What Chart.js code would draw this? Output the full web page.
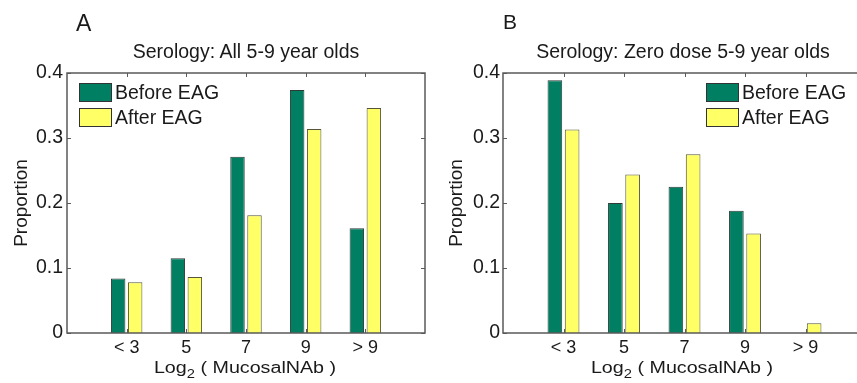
<!DOCTYPE html>
<html lang="en">
  <head>
    <meta charset="UTF-8" />
    <title>Serology</title>
    <style>
      html, body { margin: 0; padding: 0; overflow: hidden; background: #fff; }
      .page {
        position: relative; width: 857px; height: 383px; overflow: hidden;
        font-family: "Liberation Sans", Arial, sans-serif; color: #1a1a1a;
      }
      .panel { position: absolute; top: 0; height: 383px; }
      .panel canvas { position: absolute; left: 0; top: 0; }
      .letter, .title, .xlabel, .legend { position: absolute; white-space: nowrap; line-height: 1; }
      .letter { font-size: 23px; top: 12px; }
      .title { font-size: 19.5px; top: 42px; transform: translateX(-50%); }
      .xlabel { font-size: 16px; top: 359.5px; transform: translateX(-50%) scaleX(1.23); }
      .xlabel sub { font-size: 12px; vertical-align: -5px; line-height: 1; }
      .legend { top: 83px; font-size: 19.5px; }
      .legend .row { display: flex; align-items: center; height: 19px; margin-bottom: 6px; }
      .legend .sw { width: 33px; height: 19px; box-sizing: border-box; border: 1px solid #333; margin-right: 3px; }
    </style>
  </head>
  <body>
    <div class="page">
      <div class="panel" id="panelA" style="left:0;width:430px">
        <canvas id="chartA" width="430" height="383"></canvas>
        <div class="letter" style="left:76px">A</div>
        <div class="title" style="left:246px">Serology: All 5-9 year olds</div>
        <div class="legend" id="legendA" style="left:79px"></div>
        <div class="xlabel" style="left:245px">Log<sub>2</sub> ( MucosalNAb )</div>
      </div>
      <div class="panel" id="panelB" style="left:430px;width:440px">
        <canvas id="chartB" width="440" height="383"></canvas>
        <div class="letter" style="left:73px;font-size:21px;top:11px">B</div>
        <div class="title" style="left:253px">Serology: Zero dose 5-9 year olds</div>
        <div class="legend" id="legendB" style="left:276px"></div>
        <div class="xlabel" style="left:252px">Log<sub>2</sub> ( MucosalNAb )</div>
      </div>
    </div>

    <script src="https://cdn.jsdelivr.net/npm/chart.js"></script>
    <script>
      const categories = ["< 3", "5", "7", "9", "> 9"];
      const seriesNames = ["Before EAG", "After EAG"];
      const seriesColors = ["#007f62", "#ffff66"];

      // panel A: all 5-9 year olds
      const allBefore = [0.084, 0.115, 0.271, 0.374, 0.161];
      const allAfter = [0.078, 0.086, 0.181, 0.314, 0.346];

      // panel B: zero dose 5-9 year olds
      const zeroBefore = [0.389, 0.2, 0.225, 0.188, 0];
      const zeroAfter = [0.313, 0.244, 0.275, 0.153, 0.015];

      const yTicks = [0, 0.1, 0.2, 0.3, 0.4];

      const axisColor = "#5a5a5a";

      // box round the plot with short inward ticks, like matlab
      const boxPlugin = {
        id: "matlabBox",
        afterDatasetsDraw(chart) {
          const { ctx, chartArea: a, scales } = chart;
          const len = 4;
          ctx.save();
          ctx.strokeStyle = axisColor;
          ctx.lineWidth = 1;
          ctx.beginPath();
          scales.y.ticks.forEach((t) => {
            const y = Math.round(scales.y.getPixelForValue(t.value)) + 0.5;
            ctx.moveTo(a.left, y); ctx.lineTo(a.left + len, y);
            ctx.moveTo(a.right, y); ctx.lineTo(a.right - len, y);
          });
          scales.x.ticks.forEach((t, i) => {
            if (!chart.data.labels[i]) return;
            const x = Math.round(scales.x.getPixelForTick(i)) + 0.5;
            ctx.moveTo(x, a.top); ctx.lineTo(x, a.top + len);
            ctx.moveTo(x, a.bottom); ctx.lineTo(x, a.bottom - len);
          });
          ctx.stroke();
          ctx.lineWidth = 1.5;
          ctx.strokeRect(a.left, a.top, a.right - a.left, a.bottom - a.top);
          ctx.restore();
        },
      };

      function makeChart(id, before, after, o) {
        const labels = ["", ...categories, ""];
        const pad = (arr) => [null, ...arr, null];
        return new Chart(document.getElementById(id), {
          type: "bar",
          data: {
            labels: labels,
            datasets: [
              { label: seriesNames[0], data: pad(before), backgroundColor: seriesColors[0], borderColor: "#2e3a34", borderWidth: 1 },
              { label: seriesNames[1], data: pad(after), backgroundColor: seriesColors[1], borderColor: "#55553a", borderWidth: 1 },
            ],
          },
          options: {
            responsive: false,
            animation: false,
            categoryPercentage: 0.57,
            barPercentage: 0.85,
            layout: { padding: { left: 0, top: 73, right: o.padRight, bottom: 0 } },
            plugins: { legend: { display: false }, tooltip: { enabled: false } },
            scales: {
              x: {
                offset: false,
                grid: { display: false, drawTicks: false },
                border: { display: false },
                ticks: { color: "#1a1a1a", padding: 4, maxRotation: 0, autoSkip: false, font: { family: "Liberation Sans", size: 18 } },
                afterFit: (s) => { s.height = 50; },
              },
              y: {
                min: 0,
                max: 0.4,
                grid: { display: false, drawTicks: false },
                border: { display: false },
                afterBuildTicks: (s) => { s.ticks = yTicks.map((v) => ({ value: v })); },
                ticks: {
                  color: "#1a1a1a",
                  padding: o.tickPad,
                  font: { family: "Liberation Sans", size: 19.5 },
                  callback: (v) => (v === 0 ? "0" : v.toFixed(1)),
                },
                title: {
                  display: true,
                  text: "Proportion",
                  color: "#1a1a1a",
                  padding: { top: o.titlePad, bottom: 0 },
                  font: { family: "Liberation Sans", size: 19 },
                },
                afterFit: (s) => { s.width = o.axisWidth; },
              },
            },
          },
          plugins: [boxPlugin],
        });
      }

      function makeLegend(id) {
        const el = document.getElementById(id);
        seriesNames.forEach((name, i) => {
          const row = document.createElement("div");
          row.className = "row";
          const sw = document.createElement("span");
          sw.className = "sw";
          sw.style.background = seriesColors[i];
          const txt = document.createElement("span");
          txt.textContent = name;
          row.appendChild(sw);
          row.appendChild(txt);
          el.appendChild(row);
        });
      }

      makeChart("chartA", allBefore, allAfter, { axisWidth: 67, titlePad: 10, tickPad: 4, padRight: 5 });
      makeChart("chartB", zeroBefore, zeroAfter, { axisWidth: 73, titlePad: 15, tickPad: 3, padRight: 4 });
      makeLegend("legendA");
      makeLegend("legendB");
    </script>
  </body>
</html>
